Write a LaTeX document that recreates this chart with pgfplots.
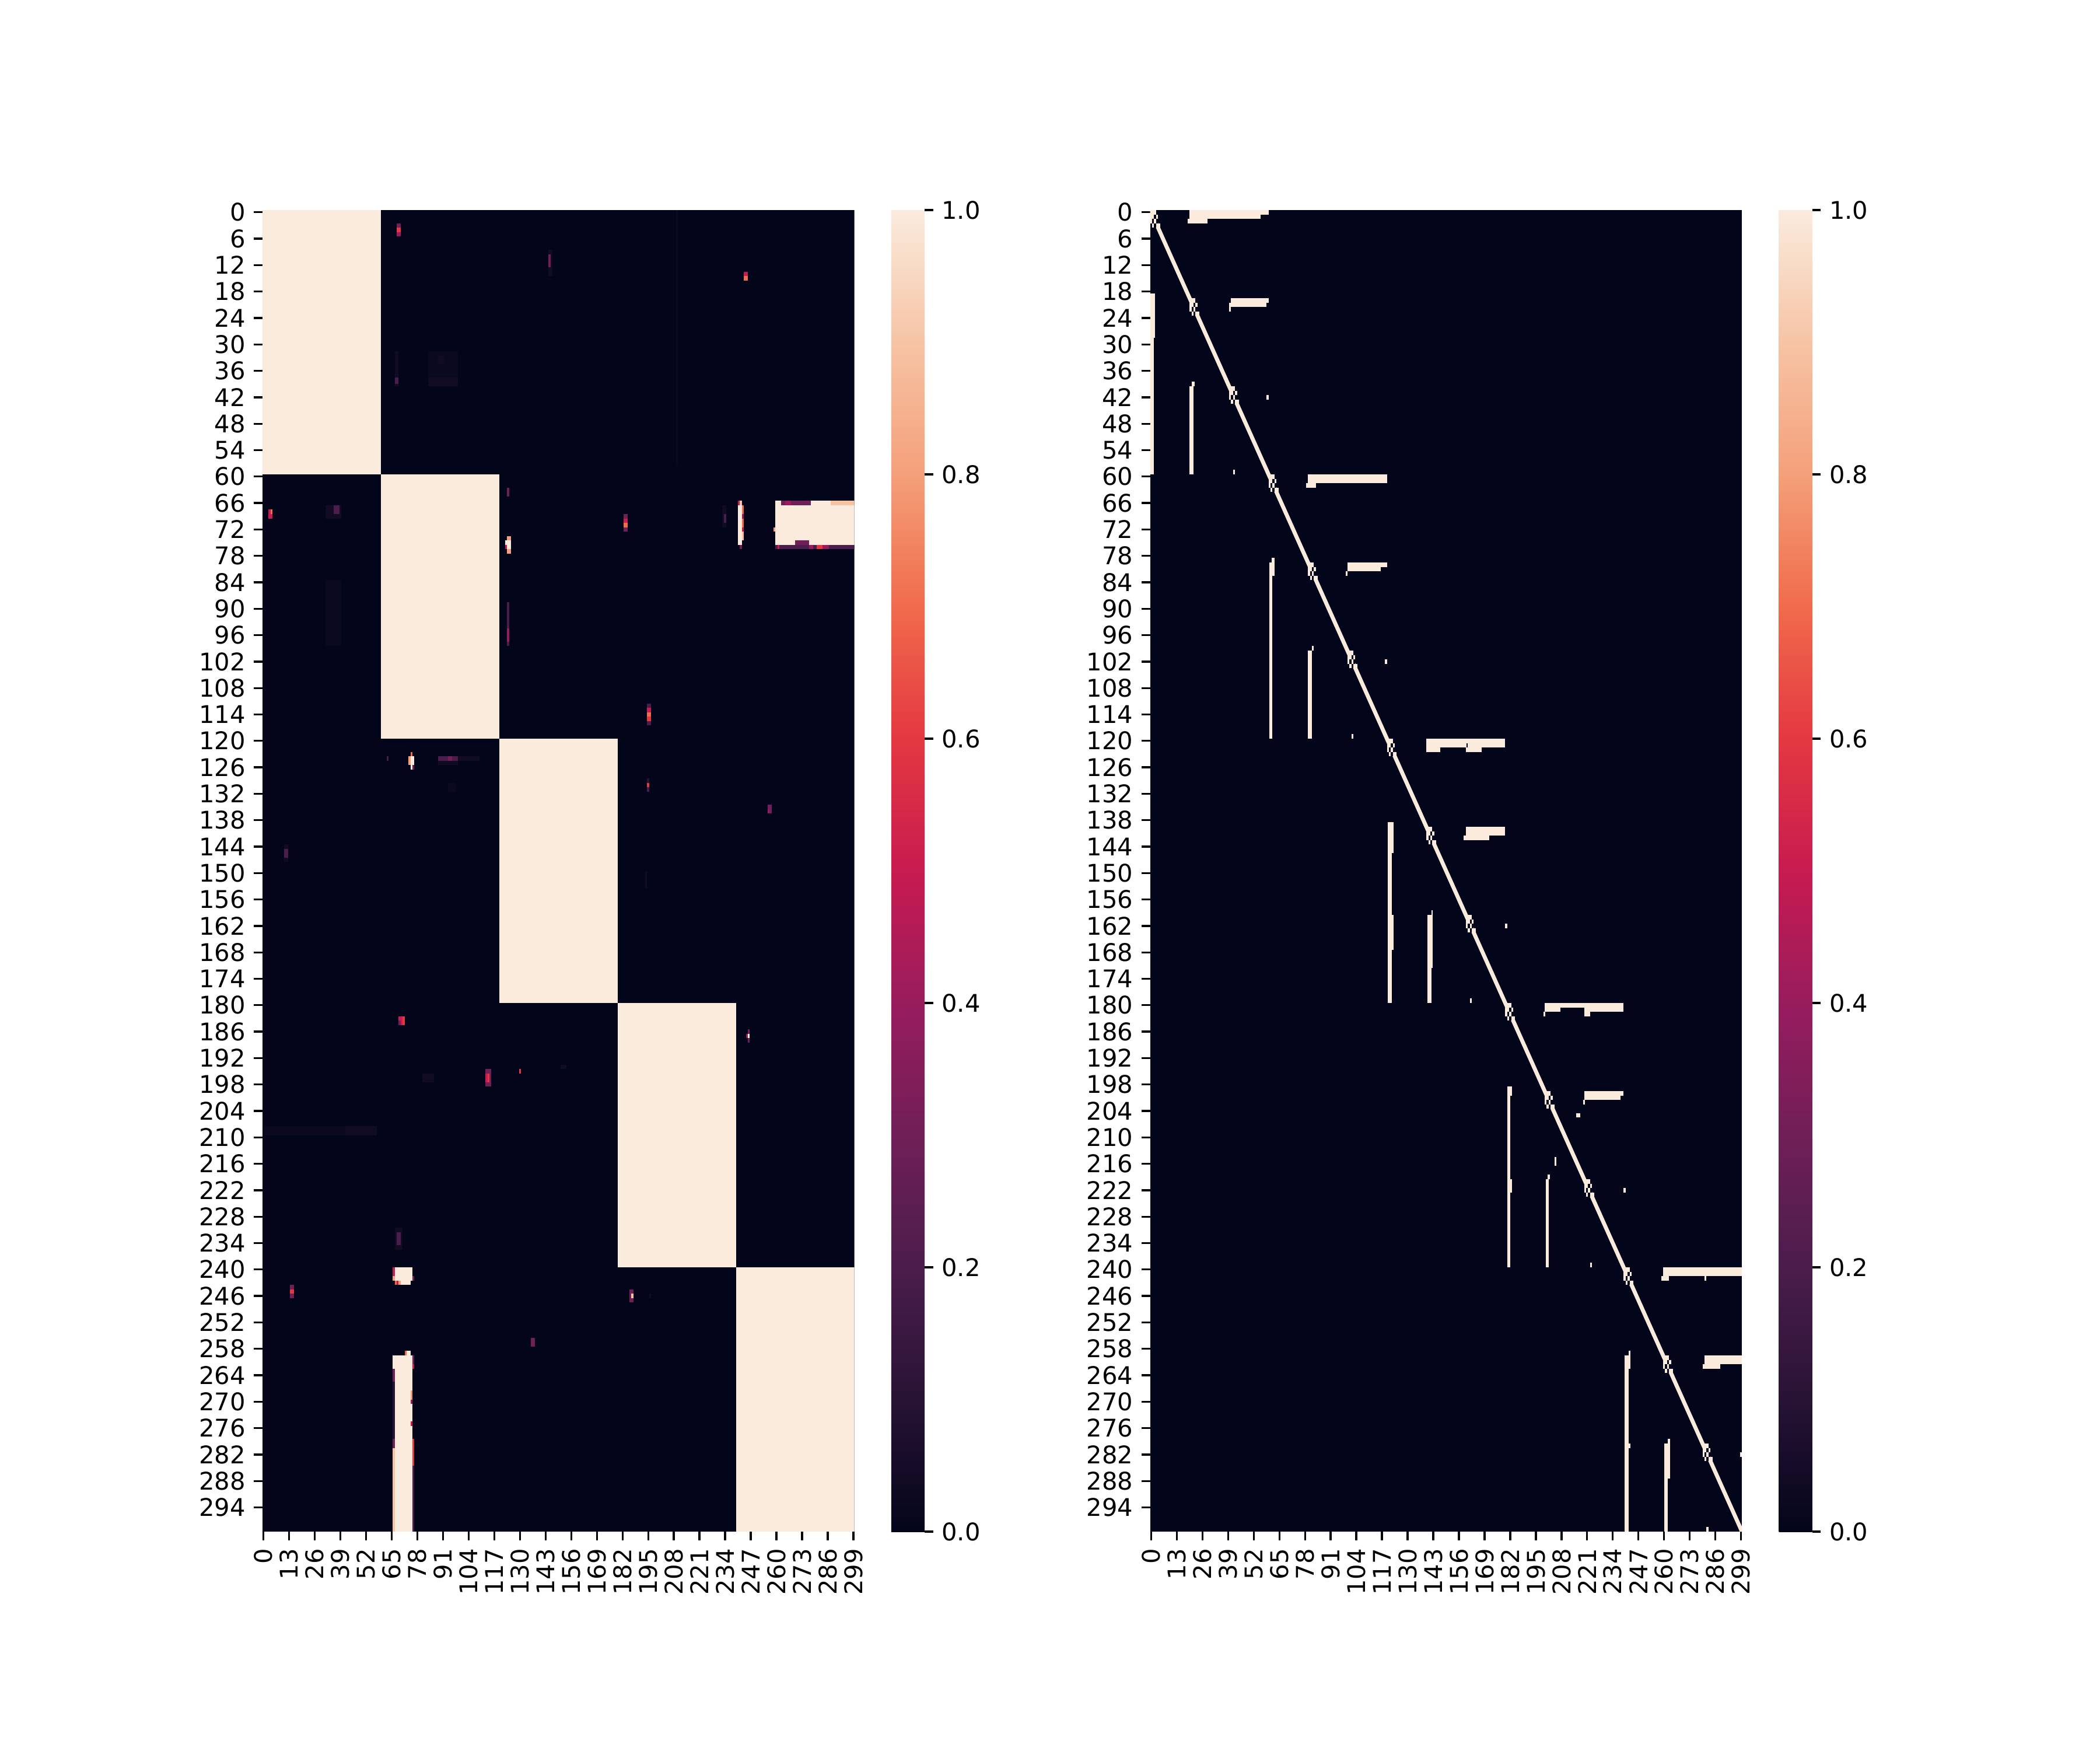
\documentclass[border=0pt]{standalone}
\usepackage{pgfplots}
\pgfplotsset{compat=1.18}
\usepackage{fontspec}
\setmainfont{DejaVu Sans}
\definecolor{rk0}{RGB}{3,5,26}
\definecolor{rk03}{RGB}{11,9,32}
\definecolor{rk05}{RGB}{17,11,36}
\definecolor{rk1}{RGB}{40,19,52}
\definecolor{rk2}{RGB}{75,29,76}
\definecolor{rk3}{RGB}{112,31,87}
\definecolor{rk4}{RGB}{152,28,93}
\definecolor{rk5}{RGB}{200,27,80}
\definecolor{rk6}{RGB}{228,56,65}
\definecolor{rk7}{RGB}{240,107,75}
\definecolor{rk8}{RGB}{244,160,122}
\definecolor{rk9}{RGB}{246,196,165}
\definecolor{rk10}{RGB}{250,235,221}
\pgfplotsset{colormap={rocket}{rgb255=(3,5,26) rgb255=(40,19,52) rgb255=(75,29,76) rgb255=(112,31,87) rgb255=(152,28,93) rgb255=(200,27,80) rgb255=(228,56,65) rgb255=(240,107,75) rgb255=(244,160,122) rgb255=(246,196,165) rgb255=(250,235,221)}}
\pgfplotsset{
  cell/.style={draw=none, mark=none, forget plot},
  hm/.style={
    scale only axis, width=243.5pt, height=543.6pt,
    xmin=0, xmax=300, ymin=0, ymax=300, y dir=reverse, enlargelimits=false,
    axis line style={draw=none},
    tick align=outside, major tick length=3.5pt, tick style={black, line width=0.8pt},
    xtick={0.5,13.5,...,299.5},
    xticklabels={0,13,26,39,52,65,78,91,104,117,130,143,156,169,182,195,208,221,234,247,260,273,286,299},
    ytick={0.5,6.5,...,294.5},
    yticklabels={0,6,12,18,24,30,36,42,48,54,60,66,72,78,84,90,96,102,108,114,120,126,132,138,144,150,156,162,168,174,180,186,192,198,204,210,216,222,228,234,240,246,252,258,264,270,276,282,288,294},
    tick label style={font=\fontsize{10}{12}\selectfont},
    xticklabel style={rotate=90, anchor=east},
    tick pos=left,
    point meta min=0, point meta max=1, colormap name=rocket,
    colorbar,
    colorbar shift/.style={xshift=15.2pt},
    colorbar style={
      at={(parent axis.north east)}, anchor=north west,
      scale only axis, width=13.7pt, height=543.6pt,
      ytick={0,0.2,0.4,0.6,0.8,1},
      yticklabel style={font=\fontsize{10}{12}\selectfont,
        /pgf/number format/.cd, fixed, fixed zerofill, precision=1, assume math mode=true},
      tick align=outside, major tick length=3.5pt, tick style={black, line width=0.8pt},
      axis line style={draw=none}, ytick pos=right,
    },
  }
}
\newcommand{\Rc}[5]{\addplot[cell, fill=#5] coordinates {(#1,#3) (#2,#3) (#2,#4) (#1,#4)} --cycle;}
\newcommand{\Zg}[6]{%
 \Rc{#3}{#4}{#2}{#3}{rk0}%
 \Rc{#2}{#3}{#3}{#4}{rk0}%
 \Rc{#3}{#4}{#4}{#5}{rk0}%
 \Rc{#4}{#5}{#3}{#4}{rk0}%
 \Rc{#1}{#4}{#1}{#2}{rk10}%
 \Rc{#1}{#3}{#2}{#3}{rk10}%
 \Rc{#4}{#5}{#2}{#3}{rk10}%
 \Rc{#1}{#2}{#3}{#4}{rk10}%
 \Rc{#3}{#4}{#3}{#4}{rk10}%
 \Rc{#2}{#3}{#4}{#5}{rk10}%
 \Rc{#4}{#6}{#4}{#5}{rk10}%
}
\begin{document}
\begin{tikzpicture}
\useasboundingbox (0,0) rectangle (864pt,720pt);
% ---------------- left heatmap ----------------
\begin{axis}[hm, at={(229.75pt,361.8pt)}, anchor=center]
\Rc{0}{300}{0}{300}{rk0}
\Rc{0}{60}{0}{60}{rk10}
\Rc{60}{120}{60}{120}{rk10}
\Rc{120}{180}{120}{180}{rk10}
\Rc{180}{240}{180}{240}{rk10}
\Rc{240}{300}{240}{300}{rk10}
% rows 0-60
\Rc{209.5}{210.5}{0}{58}{rk03}
\Rc{68}{70}{3}{4}{rk3}
\Rc{68}{70}{4}{5}{rk6}
\Rc{68}{70}{5}{6}{rk4}
\Rc{145}{147}{9}{15}{rk05}
\Rc{145}{146}{10}{13}{rk3}
\Rc{244}{246}{14}{15}{rk5}
\Rc{244}{246}{15}{16}{rk7}
\Rc{67}{69}{32}{40}{rk05}
\Rc{67}{69}{38}{39.5}{rk2}
\Rc{84}{99}{32}{40}{rk03}
\Rc{84}{99}{38}{40}{rk05}
\Rc{89}{92}{33}{35}{rk05}
% rows 60-120
\Rc{3}{5}{68}{70}{rk5}
\Rc{4}{5}{68}{69}{rk7}
\Rc{32}{40}{67}{70}{rk05}
\Rc{36}{39}{67}{69}{rk2}
\Rc{32}{40}{84}{99}{rk03}
\Rc{124}{125}{63}{65}{rk3}
\Rc{124}{126}{74}{75}{rk8}
\Rc{123}{126}{75}{77}{rk10}
\Rc{123}{124}{76}{77}{rk5}
\Rc{124}{126}{77}{78}{rk8}
\Rc{124}{125}{89}{99}{rk2}
\Rc{124}{125}{95}{98}{rk4}
\Rc{183}{185}{69}{70}{rk3}
\Rc{183}{185}{70}{71}{rk5}
\Rc{183}{185}{71}{72}{rk7}
\Rc{183}{185}{72}{73}{rk3}
\Rc{233}{235}{67}{72}{rk05}
\Rc{234}{235}{69}{71}{rk2}
\Rc{241}{243}{67}{76}{rk10}
\Rc{241}{242}{66}{67}{rk5}
\Rc{242}{243}{66}{67}{rk9}
\Rc{243}{244}{67}{69}{rk7}
\Rc{243}{244}{69}{70}{rk4}
\Rc{243}{244}{70}{72}{rk7}
\Rc{243}{244}{72}{73}{rk5}
\Rc{243}{244}{73}{75}{rk9}
\Rc{242}{243}{76}{77}{rk3}
\Rc{260}{300}{67}{75}{rk10}
\Rc{260}{263}{66}{67}{rk10}
\Rc{263}{278}{66}{67}{rk3}
\Rc{265}{268}{66}{67}{rk4}
\Rc{278}{288}{66}{67}{rk10}
\Rc{288}{300}{66}{67}{rk9}
\Rc{260}{270}{75}{76}{rk10}
\Rc{270}{277}{75}{76}{rk3}
\Rc{277}{300}{75}{76}{rk10}
\Rc{260}{300}{76}{77}{rk2}
\Rc{261}{262}{76}{77}{rk5}
\Rc{277}{279}{76}{77}{rk4}
\Rc{281}{284}{76}{77}{rk6}
\Rc{284}{287}{76}{77}{rk4}
\Rc{259}{260}{72}{73}{rk8}
\Rc{195}{197}{112}{113}{rk2}
\Rc{195}{197}{113}{114}{rk5}
\Rc{195}{197}{114}{115}{rk7}
\Rc{195}{197}{115}{116}{rk6}
\Rc{195}{197}{116}{117}{rk2}
% rows 120-180
\Rc{75}{76}{123}{124}{rk7}
\Rc{74}{75}{124}{126}{rk8}
\Rc{75}{77}{124}{126}{rk10}
\Rc{75}{76}{126}{127}{rk10}
\Rc{76}{77}{126}{127}{rk3}
\Rc{89}{110}{124}{125}{rk05}
\Rc{89}{99}{124}{125}{rk2}
\Rc{94}{96}{124}{125}{rk3}
\Rc{89}{99}{125}{126}{rk05}
\Rc{63}{64}{124}{125}{rk2}
\Rc{94}{98}{130}{132}{rk03}
\Rc{195}{196}{129}{130}{rk1}
\Rc{195}{196}{130}{131}{rk6}
\Rc{195}{196}{131}{132}{rk2}
\Rc{256}{258}{135}{137}{rk3}
\Rc{256}{257}{136}{137}{rk4}
\Rc{11}{13}{144}{148}{rk05}
\Rc{11}{13}{145}{147}{rk2}
\Rc{194}{195}{150}{154}{rk05}
% rows 180-240
\Rc{69}{71}{183}{185}{rk5}
\Rc{71}{72}{183}{185}{rk6}
\Rc{69}{70}{184}{185}{rk3}
\Rc{246}{247}{186}{189}{rk3}
\Rc{245}{246}{187}{188}{rk4}
\Rc{246}{247}{187}{188}{rk10}
\Rc{113}{116}{195}{199}{rk3}
\Rc{113}{114}{196}{198}{rk5}
\Rc{114}{115}{196}{198}{rk6}
\Rc{130}{131}{195}{196}{rk6}
\Rc{151}{154}{194}{195}{rk05}
\Rc{81}{87}{196}{198}{rk05}
\Rc{1}{58}{208}{210}{rk03}
\Rc{42}{58}{208}{210}{rk05}
\Rc{67}{71}{231}{236}{rk05}
\Rc{68}{70}{232}{235}{rk2}
% rows 240-300
\Rc{66}{67}{240}{242}{rk5}
\Rc{67}{76}{240}{243}{rk10}
\Rc{66}{67}{242}{243}{rk8}
\Rc{76}{77}{242}{243}{rk3}
\Rc{67}{68}{243}{244}{rk7}
\Rc{68}{69}{243}{244}{rk5}
\Rc{69}{70}{243}{244}{rk8}
\Rc{70}{75}{243}{244}{rk10}
\Rc{14}{16}{244}{247}{rk3}
\Rc{14}{16}{245}{246}{rk6}
\Rc{186}{188}{245}{248}{rk3}
\Rc{187}{188}{246}{247}{rk9}
\Rc{196}{197}{246}{247}{rk05}
\Rc{136}{138}{256}{258}{rk3}
\Rc{72}{73}{259}{260}{rk7}
\Rc{73}{75}{259}{260}{rk10}
\Rc{67}{76}{260}{300}{rk10}
\Rc{66}{67}{260}{263}{rk10}
\Rc{66}{67}{263}{266}{rk3}
\Rc{66}{67}{266}{279}{rk1}
\Rc{66}{67}{279}{281}{rk3}
\Rc{66}{67}{281}{300}{rk9}
\Rc{76}{77}{260}{262}{rk3}
\Rc{76}{77}{262}{263}{rk5}
\Rc{75}{76}{268}{270}{rk8}
\Rc{75}{76}{270}{271}{rk4}
\Rc{75}{76}{275}{276}{rk5}
\Rc{76}{77}{279}{285}{rk6}
\Rc{76}{77}{285}{300}{rk2}
\end{axis}
% ---------------- right heatmap ----------------
\begin{axis}[hm, at={(594.95pt,361.8pt)}, anchor=center]
\Rc{0}{300}{0}{300}{rk0}
\addplot[cell, fill=rk10] coordinates {(0,0) (1.1,0) (300,298.9) (300,300) (298.9,300) (0,1.1)} --cycle;
\Zg{0}{1}{2}{3}{4}{5}
\Zg{20}{21}{22}{23}{24}{25}
\Zg{40}{41}{42}{43}{44}{45}
\Zg{60}{61}{62}{63}{64}{65}
\Zg{80}{81}{82}{83}{84}{85}
\Zg{100}{101}{102}{103}{104}{105}
\Zg{120}{121}{122}{123}{124}{125}
\Zg{140}{141}{142}{143}{144}{145}
\Zg{160}{161}{162}{163}{164}{165}
\Zg{180}{181}{182}{183}{184}{185}
\Zg{200}{201}{202}{203}{204}{205}
\Zg{220}{221}{222}{223}{224}{225}
\Zg{240}{241}{242}{243}{244}{245}
\Zg{260}{261}{262}{263}{264}{265}
\Zg{280}{281}{282}{283}{284}{285}
% group 0
\Rc{20}{60}{0}{1}{rk10}
\Rc{20}{56}{1}{2}{rk10}
\Rc{19}{29}{2}{3}{rk10}
\Rc{41}{60}{20}{21}{rk10}
\Rc{40}{59}{21}{22}{rk10}
\Rc{40}{41}{22}{23}{rk10}
\Rc{0}{2.5}{19}{29}{rk10}
\Rc{0}{2}{29}{60}{rk10}
\Rc{20}{22}{40}{60}{rk10}
\Rc{21}{22.5}{39}{40}{rk10}
\Rc{59}{60}{42}{43}{rk10}
\Rc{42}{43}{59}{60}{rk10}
% group 1
\Rc{80}{120}{60}{62}{rk10}
\Rc{79}{84}{62}{63}{rk10}
\Rc{100}{120}{80}{81}{rk10}
\Rc{100}{117}{81}{82}{rk10}
\Rc{99}{100}{82}{83}{rk10}
\Rc{60.5}{62}{80}{120}{rk10}
\Rc{61.5}{63}{79}{83}{rk10}
\Rc{80}{82}{100}{120}{rk10}
\Rc{82}{83}{99}{100}{rk10}
\Rc{119}{120}{102}{103}{rk10}
\Rc{102}{103}{119}{120}{rk10}
% group 2
\Rc{140}{180}{120}{122}{rk10}
\Rc{160.3}{160.8}{121}{122}{rk0}
\Rc{140}{147}{122}{123}{rk10}
\Rc{160}{168}{122}{123}{rk10}
\Rc{160}{180}{140}{142}{rk10}
\Rc{159}{172}{142}{143}{rk10}
\Rc{120.5}{122.5}{139}{180}{rk10}
\Rc{122.5}{123.5}{139}{146}{rk10}
\Rc{122.5}{123.5}{160}{168}{rk10}
\Rc{140.5}{142.5}{160}{180}{rk10}
\Rc{142.5}{143.2}{159}{172}{rk10}
\Rc{180}{181}{162}{163}{rk10}
\Rc{162}{163}{179}{180}{rk10}
% group 3
\Rc{200}{240}{180}{181}{rk10}
\Rc{200}{208}{181}{182}{rk10}
\Rc{220}{240}{181}{182}{rk10}
\Rc{220}{223}{182}{183}{rk10}
\Rc{199.5}{200.3}{182}{183}{rk10}
\Rc{220}{240}{200}{201}{rk10}
\Rc{220}{238.5}{201}{202}{rk10}
\Rc{219.5}{220.3}{202}{203}{rk10}
\Rc{181}{182.5}{199}{240}{rk10}
\Rc{182.5}{183.5}{199}{201}{rk10}
\Rc{182}{183.5}{220}{223}{rk10}
\Rc{200.5}{202}{220}{240}{rk10}
\Rc{201.5}{202.5}{219}{220}{rk10}
\Rc{216}{218}{205}{206}{rk10}
\Rc{205}{206}{215}{217}{rk10}
\Rc{240}{241}{222}{223}{rk10}
\Rc{223}{224}{239}{240}{rk10}
% group 4
\Rc{260}{300}{240}{242}{rk10}
\Rc{259}{263}{242}{243}{rk10}
\Rc{281}{282}{242}{243}{rk10}
\Rc{281}{300}{260}{262}{rk10}
\Rc{280}{289}{262}{263}{rk10}
\Rc{240.5}{242.5}{260}{300}{rk10}
\Rc{242.5}{243.5}{259}{263}{rk10}
\Rc{242.5}{243.5}{280}{281}{rk10}
\Rc{260.5}{262.5}{280}{300}{rk10}
\Rc{262.5}{263.5}{279}{288}{rk10}
\Rc{282}{283}{299}{300}{rk10}
\Rc{299}{300}{282}{283}{rk10}
\end{axis}
\end{tikzpicture}
\end{document}
